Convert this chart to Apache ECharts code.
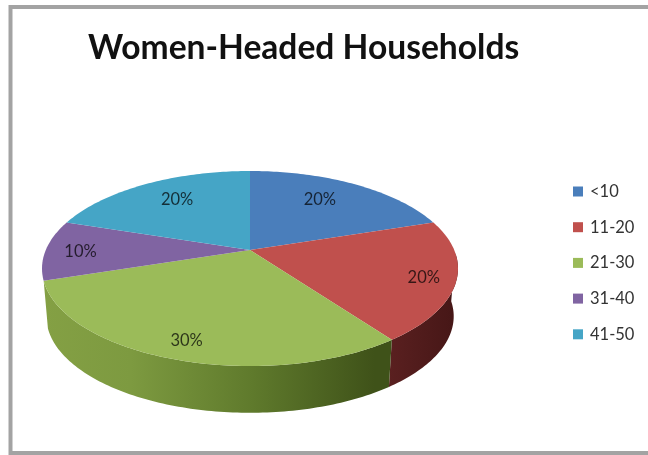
<!DOCTYPE html>
<html>
<head>
<meta charset="utf-8">
<style>html,body{margin:0;padding:0;background:#fff}#c{width:648px;height:455px}</style>
<script src="https://cdn.jsdelivr.net/npm/echarts@6/dist/echarts.min.js"></script>
</head>
<body>
<div id="c"></div>
<script>
const titleText = 'Women-Headed Households';
const categories = ['<10', '11-20', '21-30', '31-40', '41-50'];
const shares = [20, 20, 30, 10, 20];
const colors = ['#4a7ebb', '#c0504d', '#9bbb59', '#8064a2', '#45a5c6'];

// Presentation only: how far along its radius each label sits, small nudges, and the wall shading.
const labelReach = [0.68, 0.85, 0.85, 0.83, 0.68];
const labelNudge = [[-4, -4], [0, 2], [0, 1], [0, 2], [1, -4]];
const wallStops = {
  1: [['#5a2020', 0], ['#451616', 1]],
  2: [['#84a044', 0], ['#7d9a40', 0.25], ['#5f7a2c', 0.6], ['#3f5219', 0.95], ['#3f5219', 1]]
};

// Perspective projection of a flat disc: angle is clockwise from the top.
const P = 0.19;
function project(deg, r, disc) {
  const t = deg * Math.PI / 180;
  const u = Math.sin(t) * r, v = -Math.cos(t) * r, d = 1 - P * v;
  return [disc.cx + disc.b * u / d, disc.cy + disc.a * v / d];
}
const topDisc = { cx: 250, cy: 250, a: 94, b: 204.2 };
const baseDisc = { cx: 250, cy: 298, a: 93, b: 200 };

function rim(from, to, disc) {
  const pts = [], n = Math.max(2, Math.ceil(Math.abs(to - from)));
  for (let i = 0; i <= n; i++) pts.push(project(from + (to - from) * i / n, 1, disc));
  return pts;
}

const total = shares.reduce((a, b) => a + b, 0);
const starts = [];
shares.reduce((acc, v, i) => { starts[i] = acc; return acc + v; }, 0);

function makeRender(idx) {
  return function (params, api) {
    const value = api.value(0);
    const a0 = starts[idx] / total * 360, a1 = a0 + value / total * 360;
    const children = [];
    const w0 = Math.max(a0, 92), w1 = Math.min(a1, 262);
    if (w1 > w0 && wallStops[idx]) {
      children.push({
        type: 'polygon', z2: 1,
        shape: { points: rim(w0, w1, topDisc).concat(rim(w1, w0, baseDisc)) },
        style: { fill: { type: 'linear', x: 0, y: 0, x2: 1, y2: 0, global: false,
          colorStops: wallStops[idx].map(s => ({ color: s[0], offset: s[1] })) } }
      });
    }
    children.push({
      type: 'polygon', z2: 2,
      shape: { points: [[topDisc.cx, topDisc.cy]].concat(rim(a0, a1, topDisc)) },
      style: { fill: colors[idx] }
    });
    const lp = project((a0 + a1) / 2, labelReach[idx], topDisc);
    children.push({
      type: 'text', z2: 3, x: lp[0] + labelNudge[idx][0], y: lp[1] + labelNudge[idx][1],
      style: { text: Math.round(value / total * 100) + '%', fill: 'rgba(0,0,0,0.72)',
        font: '16.5px Lato', align: 'center', verticalAlign: 'middle' }
    });
    return { type: 'group', children };
  };
}

const chart = echarts.init(document.getElementById('c'), null, { renderer: 'canvas' });
chart.setOption({
  animation: false,
  backgroundColor: '#fff',
  title: { text: titleText, left: 83, top: 26,
    textStyle: { fontFamily: 'Lato', fontWeight: 'bold', fontSize: 33.6, color: '#111' } },
  legend: { orient: 'vertical', left: 568, top: 178, itemGap: 18.7, itemWidth: 10, itemHeight: 10,
    icon: 'rect', data: categories,
    textStyle: { fontFamily: 'Lato', fontSize: 16.5, color: '#333', padding: [0, 0, 0, 2] } },
  graphic: [
    { type: 'polyline', silent: true, z: 10,
      shape: { points: [[648, 7], [10.5, 7], [10.5, 453], [648, 453]] },
      style: { fill: 'none', stroke: '#a3a3a3', lineWidth: 4 } }
  ],
  series: categories.map((name, i) => ({
    type: 'custom', name, coordinateSystem: 'none',
    itemStyle: { color: colors[i] },
    renderItem: makeRender(i),
    data: [[shares[i]]]
  }))
});
</script>
</body>
</html>
